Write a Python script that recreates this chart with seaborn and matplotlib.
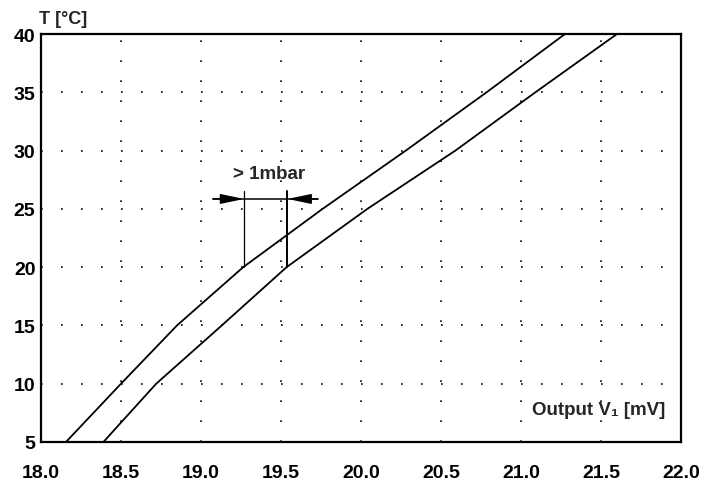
import matplotlib
matplotlib.use("Agg")
import matplotlib.pyplot as plt
import seaborn as sns
import pandas as pd

# ---- data ----
temps_upper = [5, 10, 15, 20, 25, 30, 35, 40]
volts_upper = [18.156, 18.50, 18.85, 19.264, 19.76, 20.28, 20.785, 21.275]
temps_lower = [5, 10, 15, 20, 25, 30, 35, 40]
volts_lower = [18.39, 18.72, 19.13, 19.535, 20.04, 20.59, 21.09, 21.60]

x_ticks = [18.0, 18.5, 19.0, 19.5, 20.0, 20.5, 21.0, 21.5, 22.0]
x_tick_labels = ["18.0", "18.5", "19.0", "19.5", "20.0", "20.5", "21.0", "21.5", "22.0"]
y_ticks = [5, 10, 15, 20, 25, 30, 35, 40]
y_tick_labels = ["5", "10", "15", "20", "25", "30", "35", "40"]

# annotation values ("> 1mbar")
mark_left_v = 19.27
mark_right_v = 19.54
mark_bottom_t = 20
mark_top_t = 26.5
arrow_t = 25.85
arrow_start_v = 19.075
arrow_end_v = 19.73

sns.set_theme(style="white")
plt.rcParams["font.family"] = ["Liberation Sans", "DejaVu Sans"]
plt.rcParams["font.weight"] = "bold"

df = pd.concat([
    pd.DataFrame({"V": volts_upper, "T": temps_upper, "curve": "upper"}),
    pd.DataFrame({"V": volts_lower, "T": temps_lower, "curve": "lower"}),
])

fig = plt.figure(figsize=(7.22, 4.85), dpi=100)
ax = fig.add_axes([41 / 722, 1 - 443 / 485, 640 / 722, 408 / 485])

sns.lineplot(data=df, x="V", y="T", units="curve", estimator=None, sort=False,
             color="black", linewidth=1.3, ax=ax, legend=False)

ax.set_xlim(18.0, 22.0)
ax.set_ylim(5, 40)
ax.set_xticks(x_ticks)
ax.set_xticklabels(x_tick_labels, fontsize=14, fontweight="bold")
ax.set_yticks(y_ticks)
ax.set_yticklabels(y_tick_labels, fontsize=14, fontweight="bold")
ax.set_xlabel("")
ax.set_ylabel("")

ax.grid(True, color="black", linestyle=(0, (1, 11)), linewidth=1.2)
ax.tick_params(axis="both", direction="in", length=8, width=1.5, colors="black")
ax.tick_params(axis="x", pad=16)
ax.tick_params(axis="y", pad=4)

for side in ["left", "bottom", "right"]:
    ax.spines[side].set_visible(True)
    ax.spines[side].set_color("black")
    ax.spines[side].set_linewidth(1.6)
ax.spines["top"].set_color("black")
ax.spines["top"].set_linewidth(1.6)
ax.spines["top"].set_linestyle((0, (3, 1)))

# annotation
ax.plot([mark_left_v, mark_left_v], [mark_bottom_t, mark_top_t], color="black", linewidth=0.9)
ax.plot([mark_right_v, mark_right_v], [mark_bottom_t, mark_top_t], color="black", linewidth=1.4)
ax.plot([arrow_start_v, arrow_end_v], [arrow_t, arrow_t], color="black", linewidth=1.1)
ax.annotate("", xy=(mark_left_v, arrow_t), xytext=(arrow_start_v, arrow_t),
            arrowprops=dict(arrowstyle="-|>,head_length=1.2,head_width=0.25",
                            color="black", lw=1.1, shrinkA=0, shrinkB=0))
ax.annotate("", xy=(mark_right_v, arrow_t), xytext=(arrow_end_v, arrow_t),
            arrowprops=dict(arrowstyle="-|>,head_length=1.2,head_width=0.25",
                            color="black", lw=1.1, shrinkA=0, shrinkB=0))
ax.text((arrow_start_v + arrow_end_v) / 2 + 0.02, 27.3, "> 1mbar",
        ha="center", va="bottom", fontsize=13.5, fontweight="bold")

ax.text(0.767, 0.069, "Output V\u2081 [mV]", transform=ax.transAxes,
        ha="left", va="baseline", fontsize=13.5, fontweight="bold")
ax.text(-0.003, 1.027, "T [°C]", transform=ax.transAxes,
        ha="left", va="baseline", fontsize=13, fontweight="bold")

fig.savefig("out.png", dpi=100)
